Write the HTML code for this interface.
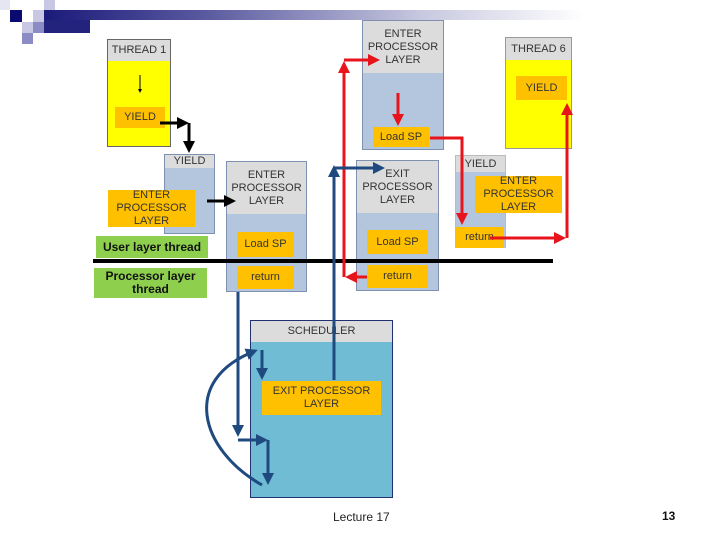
<!DOCTYPE html>
<html><head><style>
body{margin:0;width:720px;height:540px;background:#fff;position:relative;overflow:hidden;font-family:"Liberation Sans",sans-serif}
.a{position:absolute;box-sizing:border-box}
.c{display:flex;align-items:center;justify-content:center;text-align:center;font-size:11px;color:#333;line-height:13px}
.box{border:1px solid #8090b0;background:#b3c6de}
.hd{background:#dcdcdc}
.or{background:#ffc000}
.gr{background:#8ed04e;font-weight:bold;font-size:12px;color:#111}
</style></head><body>
<div class="a" style="left:44px;top:10px;width:540px;height:10px;background:linear-gradient(90deg,#1a1a7a,#5a5aa0 30%,#c8c8e0 70%,#fff)"></div>
<div class="a" style="left:44px;top:20px;width:46px;height:13px;background:#23237e"></div>
<div class="a" style="left:10px;top:10px;width:12px;height:12px;background:#0a0a70"></div>
<div class="a" style="left:0px;top:0px;width:10px;height:10px;background:#e6e6f2"></div>
<div class="a" style="left:33px;top:10px;width:11px;height:12px;background:#c8c8e4"></div>
<div class="a" style="left:44px;top:0px;width:11px;height:10px;background:#c8c8e4"></div>
<div class="a" style="left:22px;top:22px;width:11px;height:11px;background:#c8c8e4"></div>
<div class="a" style="left:33px;top:22px;width:11px;height:11px;background:#8c8cc4"></div>
<div class="a" style="left:22px;top:33px;width:11px;height:11px;background:#8c8cc4"></div>

<div class="a" style="left:107px;top:39px;width:64px;height:108px;background:#ffff00;border:1px solid #666"></div>
<div class="a hd c" style="left:108px;top:40px;width:62px;height:21px">THREAD 1</div>
<div class="a or c" style="left:115px;top:107px;width:50px;height:21px">YIELD</div>
<div class="a box" style="left:164px;top:154px;width:51px;height:80px"></div>
<div class="a hd c" style="left:165px;top:155px;width:49px;height:13px">YIELD</div>
<div class="a or c" style="left:108px;top:190px;width:87px;height:37px">ENTER<br>PROCESSOR<br>LAYER</div>
<div class="a box" style="left:226px;top:161px;width:81px;height:131px"></div>
<div class="a hd c" style="left:227px;top:162px;width:79px;height:52px">ENTER<br>PROCESSOR<br>LAYER</div>
<div class="a or c" style="left:237px;top:232px;width:57px;height:25px">Load SP</div>
<div class="a or c" style="left:237px;top:266px;width:57px;height:23px">return</div>
<div class="a gr c" style="left:96px;top:236px;width:112px;height:22px">User layer thread</div>
<div class="a gr c" style="left:94px;top:268px;width:113px;height:30px">Processor layer<br>thread</div>
<div class="a box" style="left:362px;top:20px;width:82px;height:130px"></div>
<div class="a hd c" style="left:363px;top:21px;width:80px;height:52px">ENTER<br>PROCESSOR<br>LAYER</div>
<div class="a or c" style="left:373px;top:127px;width:56px;height:20px">Load SP</div>
<div class="a box" style="left:356px;top:160px;width:83px;height:131px"></div>
<div class="a hd c" style="left:357px;top:161px;width:81px;height:52px">EXIT<br>PROCESSOR<br>LAYER</div>
<div class="a or c" style="left:367px;top:230px;width:61px;height:24px">Load SP</div>
<div class="a or c" style="left:367px;top:265px;width:61px;height:23px">return</div>
<div class="a" style="left:505px;top:37px;width:67px;height:112px;background:#ffff00;border:1px solid #999"></div>
<div class="a hd c" style="left:506px;top:38px;width:65px;height:22px">THREAD 6</div>
<div class="a or c" style="left:516px;top:76px;width:51px;height:24px">YIELD</div>
<div class="a box" style="left:455px;top:155px;width:51px;height:93px;border-color:#bbb"></div>
<div class="a hd c" style="left:456px;top:156px;width:49px;height:16px">YIELD</div>
<div class="a or c" style="left:475px;top:176px;width:87px;height:37px">ENTER<br>PROCESSOR<br>LAYER</div>
<div class="a or c" style="left:455px;top:227px;width:49px;height:21px">return</div>
<div class="a" style="left:250px;top:320px;width:143px;height:178px;background:#6fbcd4;border:1px solid #203070"></div>
<div class="a hd c" style="left:251px;top:321px;width:141px;height:21px">SCHEDULER</div>
<div class="a or c" style="left:262px;top:381px;width:119px;height:34px">EXIT PROCESSOR<br>LAYER</div>

<svg class="a" style="left:0;top:0" width="720" height="540">
<defs>
<marker id="k" markerWidth="4" markerHeight="4" refX="3" refY="2" orient="auto"><path d="M0,0L4,2L0,4z" fill="#000"/></marker>
<marker id="r" markerWidth="4" markerHeight="4" refX="3" refY="2" orient="auto"><path d="M0,0L4,2L0,4z" fill="#e8141c"/></marker>
<marker id="b" markerWidth="4" markerHeight="4" refX="3" refY="2" orient="auto"><path d="M0,0L4,2L0,4z" fill="#1f4a80"/></marker>
</defs>
<line x1="93" y1="261" x2="553" y2="261" stroke="#000" stroke-width="4"/>
<line x1="140" y1="75" x2="140" y2="92" stroke="#000" stroke-width="1" marker-end="url(#k)"/>
<path d="M160,123H186" stroke="#000" stroke-width="3" fill="none" marker-end="url(#k)"/>
<path d="M189,123V150" stroke="#000" stroke-width="3" fill="none" marker-end="url(#k)"/>
<path d="M207,201H233" stroke="#000" stroke-width="3" fill="none" marker-end="url(#k)"/>
<g stroke="#e8141c" stroke-width="3" fill="none">
<path d="M367,277H348" marker-end="url(#r)"/>
<path d="M344,277V64" marker-end="url(#r)"/>
<path d="M344,60H377" marker-end="url(#r)"/>
<path d="M398,93V123" marker-end="url(#r)"/>
<path d="M430,138H462V222" marker-end="url(#r)"/>
<path d="M490,238H563" marker-end="url(#r)"/>
<path d="M567,238V106" marker-end="url(#r)"/>
</g>
<g stroke="#1f4a80" stroke-width="3" fill="none">
<path d="M334,380V168" marker-end="url(#b)"/>
<path d="M334,168H382" marker-end="url(#b)"/>
<path d="M238,292V434" marker-end="url(#b)"/>
<path d="M238,440H265" marker-end="url(#b)"/>
<path d="M268,440V482" marker-end="url(#b)"/>
<path d="M262,350V377" marker-end="url(#b)"/>
<path d="M262,485C200,450 180,380 255,351" marker-end="url(#b)"/>
</g>
</svg>
<div class="a" style="left:333px;top:510px;font-size:12px;color:#222">Lecture 17</div>
<div class="a" style="left:662px;top:509px;font-size:12px;font-weight:bold;color:#111">13</div>
</body></html>
